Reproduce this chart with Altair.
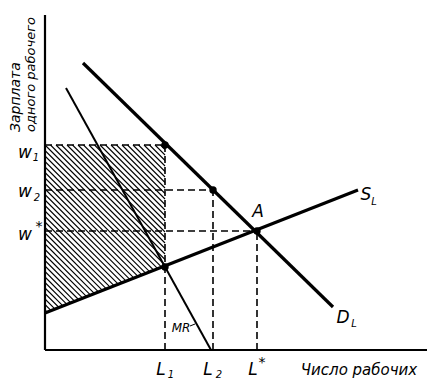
import altair as alt
import pandas as pd
import numpy as np

# Economic quantities (in drawing units, origin at axis corner)
L_marks = [120, 168, 212]          # L1, L2, L*
w_marks = [205, 160, 119]          # w1, w2, w*
# Curves: endpoints
DL_x = [38, 288]; DL_y = [287, 43]
MR_x = [21, 166]; MR_y = [262, 0]
SL_x = [0, 313]; SL_y = [37, 160]
# Highlighted points
pt_x = [120, 168, 212, 120]
pt_y = [205, 160, 119, 83]
# axes extents
x_max, y_max = 382, 335

W, H = 422, 372
xs = alt.Scale(domain=[-37, W - 37], nice=False, zero=False)
ys = alt.Scale(domain=[-30, H - 30], nice=False, zero=False)

def seg_df(segs):
    return pd.DataFrame([{"id": i, "x": a, "y": b, "x2": c, "y2": d} for i, (a, b, c, d) in enumerate(segs)])

def rules(segs, width, dash=None, color="black"):
    kw = dict(strokeWidth=width, color=color, strokeCap="butt")
    if dash:
        kw["strokeDash"] = dash
    return alt.Chart(seg_df(segs)).mark_rule(**kw).encode(
        x=alt.X("x:Q", scale=xs, axis=None), y=alt.Y("y:Q", scale=ys, axis=None),
        x2="x2:Q", y2="y2:Q")

# hatched area: between wage w1 and the supply curve, from 0 to L1
s_slope = (SL_y[1] - SL_y[0]) / (SL_x[1] - SL_x[0])
hatch = []
for c in np.arange(SL_y[0] + 3, w_marks[0] + L_marks[0], 5.5):
    lo = max(0.0, c - w_marks[0])
    hi = min(float(L_marks[0]), (c - SL_y[0]) / (1 + s_slope))
    if hi > lo:
        hatch.append((lo, c - lo, hi, c - hi))

axes = rules([(0, 0, 0, y_max), (0, 0, x_max, 0)], 2.2)
dashed = rules(
    [(0, w_marks[i], L_marks[i], w_marks[i]) for i in range(3)] +
    [(L_marks[i], 0, L_marks[i], w_marks[i]) for i in range(3)], 1.6, dash=[7, 4])
hatch_layer = rules(hatch, 1.1)
dl = rules([(DL_x[0], DL_y[0], DL_x[1], DL_y[1])], 3.2)
sl = rules([(SL_x[0], SL_y[0], SL_x[1], SL_y[1])], 3.2)
mr = rules([(MR_x[0], MR_y[0], MR_x[1], MR_y[1])], 2.0)

pts = alt.Chart(pd.DataFrame({"x": pt_x, "y": pt_y})).mark_circle(size=55, color="black", opacity=1).encode(
    x=alt.X("x:Q", scale=xs, axis=None), y=alt.Y("y:Q", scale=ys, axis=None))

def texts(rows, size, angle=0, align="center", style="italic", weight="normal"):
    df = pd.DataFrame(rows, columns=["x", "y", "t"])
    return alt.Chart(df).mark_text(fontSize=size, angle=angle, align=align, baseline="middle",
                                   font="DejaVu Sans", fontStyle=style, fontWeight=weight, color="black").encode(
        x=alt.X("x:Q", scale=xs, axis=None), y=alt.Y("y:Q", scale=ys, axis=None), text="t:N")

main_lbl = texts([
    (-20, 197, "w"), (-20, 158, "w"), (-20, 115, "w"),
    (116, -20, "L"), (163, -20, "L"), (208, -20, "L"),
    (213, 138, "A"), (321, 155, "S"), (298, 32, "D"),
], 17)
subs = texts([
    (-9, 192, "1"), (-8, 152, "2"),
    (126, -25, "1"), (174, -25, "2"),
    (329, 148, "L"), (309, 26, "L"),
], 10)
stars = texts([(-6, 123, "*"), (217, -13, "*")], 14, style="normal")
mr_lbl = texts([(136, 22, "MR")], 12)
xlab = texts([(314, -20, "Число рабочих")], 15)
ylab = alt.layer(
    texts([(-29, 218, "Зарплата")], 14, angle=270, align="left"),
    texts([(-14, 218, "одного рабочего")], 13, angle=270, align="left"),
)
# small tick at MR label
mr_tick = rules([(145, 24, 150, 26)], 1.0)

chart = alt.layer(hatch_layer, dashed, axes, dl, sl, mr, pts, main_lbl, subs, stars, mr_lbl, xlab, ylab, mr_tick).properties(
    width=W, height=H, padding=0, autosize=alt.AutoSizeParams(type="none"),
    background="white"
).configure_view(stroke=None)

chart.save("out.html", embed_options={"renderer": "svg", "actions": False})
